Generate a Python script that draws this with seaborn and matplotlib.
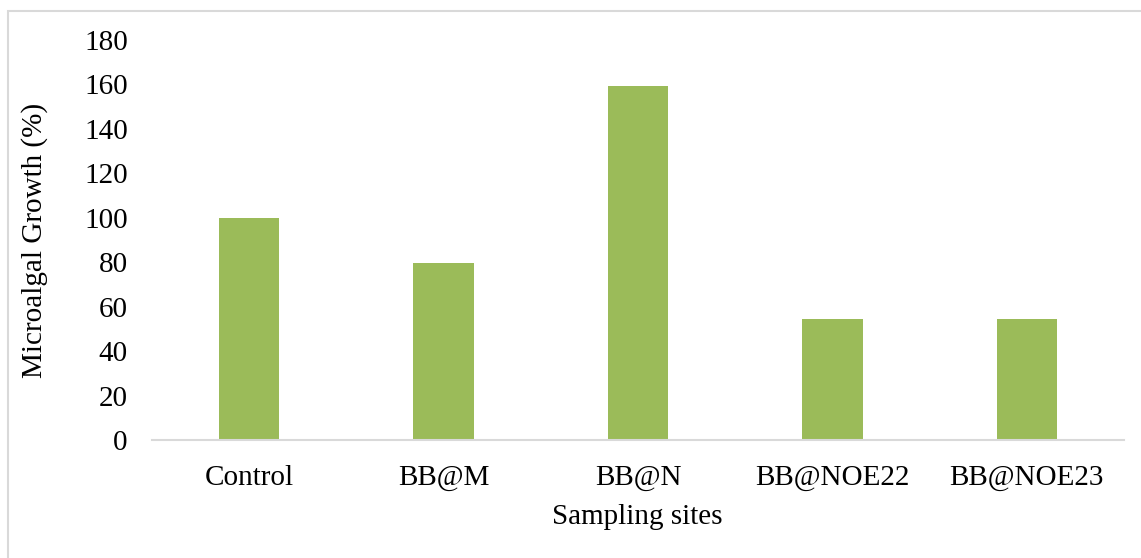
import matplotlib
matplotlib.use("Agg")
import matplotlib.pyplot as plt
import seaborn as sns
import pandas as pd
from matplotlib.patches import Rectangle

sites = ["Control", "BB@M", "BB@N", "BB@NOE22", "BB@NOE23"]
growth = [100, 79.5, 159.5, 54.5, 54.5]
yticks = [0, 20, 40, 60, 80, 100, 120, 140, 160, 180]

df = pd.DataFrame({"site": sites, "growth": growth})

sns.set_theme(style="white")
plt.rcParams["font.family"] = ["Liberation Serif", "DejaVu Serif"]

W, H = 1141, 558
fig = plt.figure(figsize=(W / 100, H / 100), dpi=100)
ax_left, ax_bottom = 152 / W, 1 - 440 / H
ax_w, ax_h = (1124 - 152) / W, 400 / H
ax = fig.add_axes([ax_left, ax_bottom, ax_w, ax_h])

sns.barplot(data=df, x="site", y="growth", color="#9BBB59", saturation=1,
            width=0.31, ax=ax, edgecolor="none")

ax.set_ylim(0, 180)
ax.set_xlim(-0.5, 4.5)
ax.set_yticks(yticks)
ax.set_yticklabels([str(t) for t in yticks])
for s in ["top", "right", "left"]:
    ax.spines[s].set_visible(False)
ax.spines["bottom"].set_color("#D9D9D9")
ax.spines["bottom"].set_linewidth(1.5)
ax.tick_params(axis="both", length=0, labelsize=21, colors="black")
ax.tick_params(axis="y", pad=17.5)
ax.tick_params(axis="x", pad=18)
ax.set_xlabel("Sampling sites", fontsize=21, color="black")
ax.set_ylabel("Microalgal Growth (%)", fontsize=21, color="black")
ax.xaxis.set_label_coords((637 / W - ax_left) / ax_w, (1 - 517 / H - ax_bottom) / ax_h)
ax.xaxis.label.set_va("center")
ax.yaxis.set_label_coords((35 / W - ax_left) / ax_w, (1 - 240 / H - ax_bottom) / ax_h)
ax.yaxis.label.set_va("center")

fig.patches.append(Rectangle((8 / W, -0.1), 1.2, 1 - 11 / H + 0.1,
                             transform=fig.transFigure, fill=False,
                             edgecolor="#D9D9D9", linewidth=1.5))

fig.savefig("out.png", dpi=100)
